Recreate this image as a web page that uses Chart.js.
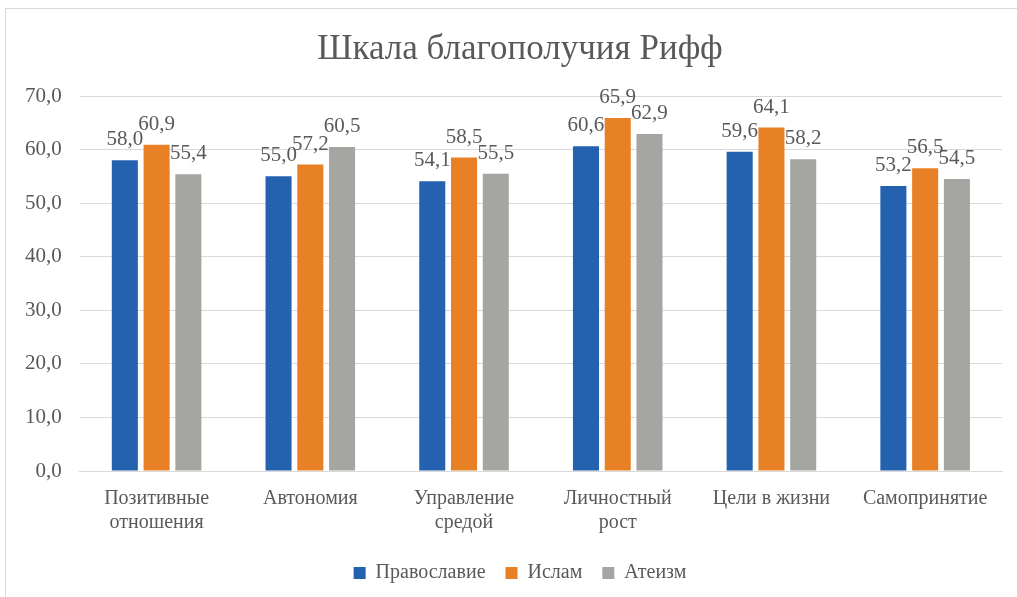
<!DOCTYPE html>
<html>
<head>
<meta charset="utf-8">
<script src="https://cdn.jsdelivr.net/npm/chart.js@4"></script>
<style>
  body { margin: 0; background: #fff; overflow: hidden; }
  #wrap { position: absolute; left: 5px; top: 8px; width: 1030px; height: 600px; border: 1px solid #d9d9d9; box-sizing: border-box; }
  canvas { display: block; }
</style>
</head>
<body>
<div id="wrap"><canvas id="myBarChart" width="1028" height="598"></canvas></div>
<script>
// Данные
const categories = [['Позитивные', 'отношения'], 'Автономия', ['Управление', 'средой'], ['Личностный', 'рост'], 'Цели в жизни', 'Самопринятие'];
const pravoslavie = [58.0, 55.0, 54.1, 60.6, 59.6, 53.2];
const islam = [60.9, 57.2, 58.5, 65.9, 64.1, 56.5];
const ateizm = [55.4, 60.5, 55.5, 62.9, 58.2, 54.5];
const yTicks = [0, 10, 20, 30, 40, 50, 60, 70];

const fontFam = 'Liberation Serif, DejaVu Serif, serif';
const textColor = '#595959';

// подписи данных над столбиками
const valueLabels = {
    id: 'valueLabels',
    afterDatasetsDraw(chart) {
        const ctx = chart.ctx;
        ctx.save();
        ctx.font = '21px ' + fontFam;
        ctx.fillStyle = textColor;
        ctx.textAlign = 'center';
        ctx.textBaseline = 'alphabetic';
        chart.data.datasets.forEach((ds, i) => {
            chart.getDatasetMeta(i).data.forEach((bar, j) => {
                ctx.fillText(ds.data[j].toFixed(1).replace('.', ','), bar.x, bar.y - 15);
            });
        });
        ctx.restore();
    }
};

const ctx = document.getElementById('myBarChart').getContext('2d');
new Chart(ctx, {
    type: 'bar',
    data: {
        labels: categories,
        datasets: [
            { label: 'Православие', data: pravoslavie, backgroundColor: '#2462b0' },
            { label: 'Ислам', data: islam, backgroundColor: '#e88125' },
            { label: 'Атеизм', data: ateizm, backgroundColor: '#a5a5a2' }
        ]
    },
    options: {
        responsive: false,
        animation: false,
        layout: { padding: { left: 1, right: 1, top: 4, bottom: 14 } },
        datasets: { bar: { barPercentage: 0.82, categoryPercentage: 0.62 } },
        plugins: {
            title: {
                display: true,
                text: 'Шкала благополучия Рифф',
                color: textColor,
                font: { family: fontFam, size: 35, weight: 'normal' },
                padding: { top: 16, bottom: 25 }
            },
            legend: {
                position: 'bottom',
                labels: {
                    color: textColor,
                    font: { family: fontFam, size: 20 },
                    boxWidth: 12,
                    boxHeight: 12,
                    padding: 20
                }
            },
            tooltip: { enabled: false }
        },
        scales: {
            x: {
                grid: { display: false },
                border: { color: '#d9d9d9' },
                ticks: { color: textColor, padding: 8, font: { family: fontFam, size: 20, lineHeight: 1.2 }, maxRotation: 0, autoSkip: false }
            },
            y: {
                min: 0,
                max: 70,
                afterBuildTicks: axis => { axis.ticks = yTicks.map(v => ({ value: v })); },
                grid: { color: '#d9d9d9', drawTicks: false },
                border: { display: false },
                ticks: {
                    color: textColor,
                    padding: 18,
                    font: { family: fontFam, size: 21 },
                    callback: v => v.toFixed(1).replace('.', ',')
                }
            },
            // пустое место справа (рамка диаграммы шире картинки)
            yRight: {
                position: 'right',
                min: 0,
                max: 70,
                grid: { display: false },
                border: { display: false },
                ticks: { display: false },
                afterFit: scale => { scale.width = 31; }
            }
        }
    },
    plugins: [valueLabels]
});
</script>
</body>
</html>
